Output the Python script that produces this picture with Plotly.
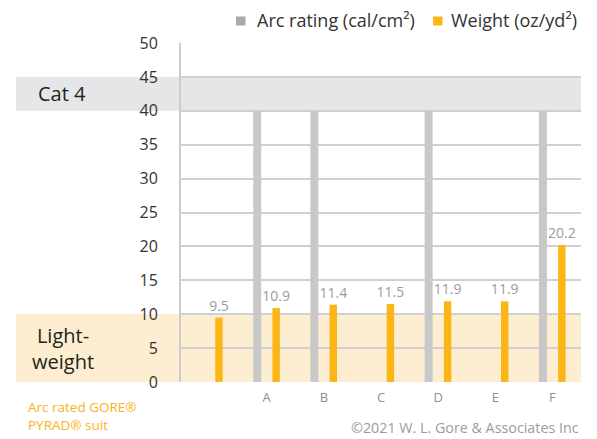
import plotly.graph_objects as go

categories = ["suit", "A", "B", "C", "D", "E", "F"]
tick_labels = ["", "A", "B", "C", "D", "E", "F"]
arc_rating = [None, 40, 40, None, 40, None, 40]
weight = [9.5, 10.9, 11.4, 11.5, 11.9, 11.9, 20.2]
weight_text = ["9.5", "10.9", "11.4", "11.5", "11.9", "11.9", "20.2"]
series_names = ["Arc rating (cal/cm²)", "Weight (oz/yd²)"]

FONT = "Open Sans"
GRAY = "#c8c8c9"
YELLOW = "#fbb515"
W, H = 597, 439
ML, MR, MT, MB = 181, 16, 43, 57
PW, PH = W - ML - MR, H - MT - MB


def px_x(p):
    return (p - ML) / PW


def px_y(p):
    return (H - MB - p) / PH


fig = go.Figure()
fig.add_trace(go.Bar(
    x=categories, y=arc_rating, name=series_names[0],
    marker=dict(color=GRAY, line=dict(width=0)),
    width=0.14, offset=-0.236, showlegend=False,
))
fig.add_trace(go.Bar(
    x=categories, y=weight, name=series_names[1],
    marker=dict(color=YELLOW, line=dict(width=0)),
    width=0.13, offset=0.10, showlegend=False,
    text=weight_text, textposition="outside", cliponaxis=False, constraintext="none",
    textfont=dict(family=FONT, size=14, color="#9b9b9b"),
))

# legend drawn as swatches + labels
legend_items = [(236, 255, "#a7a9ac", series_names[0]), (433, 449, YELLOW, series_names[1])]
shapes = [
    dict(type="rect", xref="paper", yref="y", x0=px_x(16), x1=1, y0=40, y1=45,
         fillcolor="#e5e6e7", line=dict(width=0), layer="below"),
    dict(type="rect", xref="paper", yref="y", x0=px_x(16), x1=1, y0=0, y1=10,
         fillcolor="#fdeed1", line=dict(width=0), layer="below"),
]
annotations = []
for sx, tx, col, name in legend_items:
    shapes.append(dict(type="rect", xref="paper", yref="paper", x0=px_x(sx), x1=px_x(sx + 9.5),
                       y0=px_y(25.5), y1=px_y(16.5), fillcolor=col, line=dict(width=0)))
    annotations.append(dict(text=name, xref="paper", yref="paper", x=px_x(tx), y=px_y(19.5),
                            xanchor="left", yanchor="middle", showarrow=False,
                            font=dict(family=FONT, size=18, color="#333333")))

annotations += [
    dict(text="Cat 4", xref="paper", yref="y", x=px_x(62), y=42.5, showarrow=False,
         xanchor="center", font=dict(family=FONT, size=20, color="#231f20")),
    dict(text="Light-<br>weight", xref="paper", yref="y", x=px_x(63), y=5, showarrow=False,
         xanchor="center", align="center", font=dict(family=FONT, size=20, color="#231f20")),
    dict(text="Arc rated GORE®<br>PYRAD® suit", xref="paper", yref="paper",
         x=px_x(26), y=px_y(396), xanchor="left", yanchor="top", align="left", showarrow=False,
         font=dict(family=FONT, size=13.5, color="#f9b21b")),
    dict(text="©2021 W. L. Gore & Associates Inc", xref="paper", yref="paper",
         x=px_x(581), y=px_y(428), xanchor="right", yanchor="middle", showarrow=False,
         font=dict(family=FONT, size=14.3, color="#9b9b9b")),
]

fig.update_layout(
    width=W, height=H,
    margin=dict(l=ML, r=MR, t=MT, b=MB, autoexpand=False),
    paper_bgcolor="white", plot_bgcolor="rgba(0,0,0,0)",
    barmode="overlay",
    font=dict(family=FONT, color="#333333"),
    showlegend=False,
    xaxis=dict(
        type="category", tickmode="array", tickvals=categories, ticktext=tick_labels,
        showgrid=False, zeroline=False, showline=False, ticks="",
        tickfont=dict(family=FONT, size=13, color="#8f8f8f"),
        ticklabelstandoff=6, automargin=False,
    ),
    yaxis=dict(
        range=[0, 50], tickmode="linear", tick0=0, dtick=5,
        showgrid=True, gridcolor="#d0d0d0", gridwidth=1.5,
        zeroline=False, showline=True, linecolor="#cccccc", linewidth=2,
        ticks="", ticklabelstandoff=18, automargin=False,
        tickfont=dict(family=FONT, size=16, color="#333333"),
    ),
    shapes=shapes,
    annotations=annotations,
)

fig.write_html("out.html", config={"displayModeBar": False},
               post_script="document.body.style.margin='0';")
